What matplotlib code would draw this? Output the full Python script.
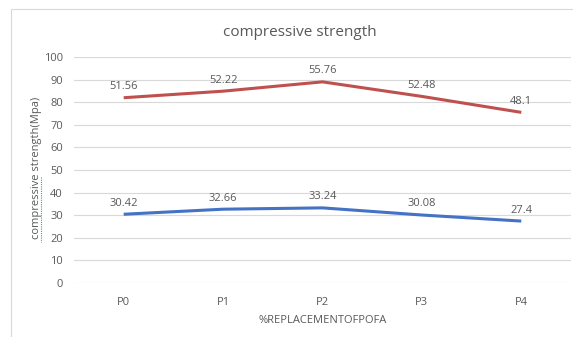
import matplotlib.pyplot as plt
from matplotlib.patches import Rectangle
from matplotlib.lines import Line2D
import numpy as np

plt.rcParams['font.family'] = ['Open Sans', 'DejaVu Sans']

mixes = ['P0', 'P1', 'P2', 'P3', 'P4']
series_a = [30.42, 32.66, 33.24, 30.08, 27.4]
series_b = [51.56, 52.22, 55.76, 52.48, 48.1]

# stacked line chart: second line sits on top of the first
stack_b = np.array(series_a) + np.array(series_b)

grey = '#595959'
W, H = 573, 337
fig = plt.figure(figsize=(W / 100, H / 100), dpi=100)
fig.patches.append(Rectangle((11 / W, -0.1), 1.0, (H - 9) / H + 0.1,
                             transform=fig.transFigure, fill=False,
                             edgecolor='#d9d9d9', lw=0.8))

ax = fig.add_axes([74 / W, 54 / H, 497 / W, 226 / H])
x = np.arange(len(mixes))
ax.plot(x, series_a, color='#4472C4', lw=2.2, solid_capstyle='butt')
ax.plot(x, stack_b, color='#C0504D', lw=2.2, solid_capstyle='butt')

for xi, y, v in zip(x, series_a, series_a):
    ax.annotate(f'{v:g}', (xi, y), xytext=(0, 4), textcoords='offset points',
                ha='center', va='bottom', fontsize=8, color=grey)
for xi, y, v in zip(x, stack_b, series_b):
    ax.annotate(f'{v:g}', (xi, y), xytext=(0, 4), textcoords='offset points',
                ha='center', va='bottom', fontsize=8, color=grey)

ax.set_xlim(-0.5, len(mixes) - 0.5)
ax.set_ylim(0, 100)
ax.set_yticks(range(0, 101, 10))
ax.set_xticks(x)
ax.set_xticklabels(mixes)
ax.grid(axis='y', color='#d9d9d9', lw=0.8)
ax.set_axisbelow(True)
for s in ax.spines.values():
    s.set_visible(False)
ax.tick_params(length=0, labelsize=8, colors=grey, pad=10)
ax.tick_params(axis='y', pad=8)

ax.set_xlabel('%REPLACEMENTOFPOFA', fontsize=8, color=grey, labelpad=5)
fig.text(37 / W, 1 - 168 / H, 'compressive strength(Mpa)', rotation=90,
         fontsize=8, color=grey, ha='center', va='center')
# spell-check squiggle under "compressive"
fig.lines.append(Line2D([41 / W, 41 / W], [1 - 177 / H, 1 - 242 / H],
                        transform=fig.transFigure, color='#3cb043',
                        lw=0.8, ls=(0, (1, 1))))
fig.text(300 / W, 1 - 32 / H, 'compressive strength', fontsize=11,
         color=grey, ha='center', va='center')

fig.savefig('out.png', dpi=100)
